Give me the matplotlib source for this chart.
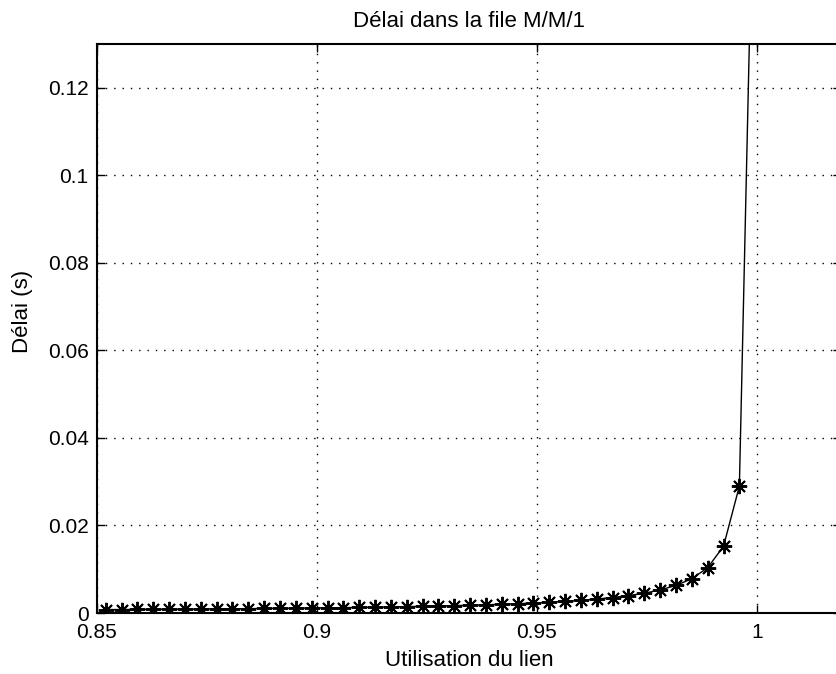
import matplotlib
matplotlib.use('Agg')
import matplotlib.pyplot as plt

plt.rcParams['font.family'] = ['Liberation Sans', 'DejaVu Sans']

# utilisation du lien (points marques)
utilisation = [0.852, 0.8556, 0.8592, 0.8628, 0.8664, 0.87, 0.8736, 0.8772, 0.8808, 0.8844,
               0.888, 0.8916, 0.8952, 0.8988, 0.9024, 0.906, 0.9096, 0.9132, 0.9168, 0.9204,
               0.924, 0.9276, 0.9312, 0.9348, 0.9384, 0.942, 0.9456, 0.9492, 0.9528, 0.9564,
               0.96, 0.9636, 0.9672, 0.9708, 0.9744, 0.978, 0.9816, 0.9852, 0.9888, 0.9924,
               0.996]
delai = [0.00078, 0.00080, 0.00082, 0.00085, 0.00087, 0.00089, 0.00092, 0.00095, 0.00097, 0.00100,
         0.00104, 0.00107, 0.00111, 0.00115, 0.00119, 0.00123, 0.00128, 0.00134, 0.00139, 0.00146,
         0.00153, 0.00160, 0.00169, 0.00178, 0.00188, 0.00200, 0.00213, 0.00228, 0.00246, 0.00266,
         0.00290, 0.00319, 0.00354, 0.00397, 0.00453, 0.00527, 0.00630, 0.00784, 0.01036, 0.01526,
         0.0290]
# dernier point, hors du cadre
x_fin = 0.9996
y_fin = 0.19

xticks = [0.85, 0.9, 0.95, 1.0]
xtick_labels = ['0.85', '0.9', '0.95', '1']
yticks = [0, 0.02, 0.04, 0.06, 0.08, 0.1, 0.12]
ytick_labels = ['0', '0.02', '0.04', '0.06', '0.08', '0.1', '0.12']

fig = plt.figure(figsize=(8.36, 6.74), dpi=100)
ax = fig.add_axes([0.116, 0.0905, 0.89, 0.844])

ax.plot(utilisation + [x_fin], delai + [y_fin], color='black', linewidth=1.0)
ax.plot(utilisation, delai, linestyle='none', marker=(8, 2, 0), color='black',
        markersize=11, markeredgewidth=1.4)

ax.set_xlim(0.85, 1.0191)
ax.set_ylim(0, 0.13)
ax.set_xticks(xticks)
ax.set_xticklabels(xtick_labels)
ax.set_yticks(yticks)
ax.set_yticklabels(ytick_labels)
ax.tick_params(direction='in', length=6, width=1, labelsize=15, colors='black',
               top=True, right=True)
ax.tick_params(axis='x', pad=7)
ax.tick_params(axis='y', pad=6)
ax.grid(True, color='black', linestyle=(0, (1, 5)), linewidth=1)
for s in ax.spines.values():
    s.set_linewidth(1.5)

ax.set_title('Délai dans la file M/M/1', fontsize=16, pad=12.5)
ax.set_xlabel('Utilisation du lien', fontsize=16)
ax.set_ylabel('Délai (s)', fontsize=16)
ax.xaxis.set_label_coords(0.5, -0.065)
ax.xaxis.label.set_va('top')
ax.yaxis.set_label_coords(-0.086, 0.53)

fig.savefig('out.png', dpi=100)
